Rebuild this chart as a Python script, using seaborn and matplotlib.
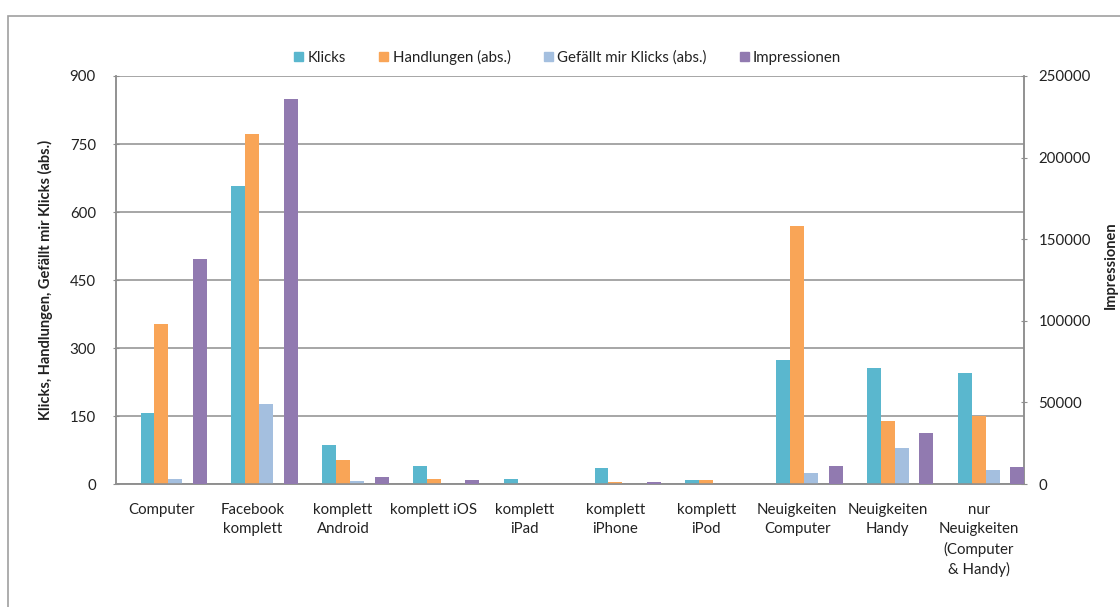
import numpy as np
import pandas as pd
import seaborn as sns
import matplotlib.pyplot as plt
from matplotlib.patches import Rectangle
from matplotlib.ticker import FixedLocator, NullFormatter

# values
categories = [
    "Computer",
    "Facebook\nkomplett",
    "komplett\nAndroid",
    "komplett iOS",
    "komplett\niPad",
    "komplett\niPhone",
    "komplett\niPod",
    "Neuigkeiten\nComputer",
    "Neuigkeiten\nHandy",
    "nur\nNeuigkeiten\n(Computer\n& Handy)",
]
klicks = [156, 657, 86, 40, 11, 35, 8, 273, 257, 244]
handlungen = [352, 772, 54, 11, 0, 4, 8, 569, 139, 151]
gefaellt = [11, 176, 7, 0, 0, 0, 0, 24, 80, 31]
impressionen = [138000, 235700, 4100, 2300, 0, 1200, 0, 11200, 31300, 10200]

series_names = ["Klicks", "Handlungen (abs.)", "Gefällt mir Klicks (abs.)"]
colors = ["#5ab7ce", "#f9a557", "#a4bfdf"]
purple = "#917ab0"

df = pd.DataFrame({
    "Kategorie": categories * 3,
    "Wert": klicks + handlungen + gefaellt,
    "Reihe": np.repeat(series_names, len(categories)),
})

sns.set_style("white")
plt.rcParams["font.family"] = ["Lato", "DejaVu Sans"]
text_col = "#222222"
grid_col = "#8e8e8e"

fig = plt.figure(figsize=(11.2, 6.07), dpi=100)
fig.patches.append(Rectangle((0.007, -0.1), 1.2, 1.074, transform=fig.transFigure,
                             fill=False, edgecolor="#a0a0a0", linewidth=1.2))
ax = fig.add_axes([0.1036, 0.2026, 0.8107, 0.6722])

sns.barplot(data=df, x="Kategorie", y="Wert", hue="Reihe", palette=colors,
            width=0.46, saturation=1, errorbar=None, ax=ax, zorder=3,
            legend=False, linewidth=0)

ax2 = ax.twinx()
ax2.bar(np.arange(len(categories)) + 0.425, impressionen, width=0.155,
        color=purple, linewidth=0, zorder=3)

ax.set_xlim(-0.5, len(categories) - 0.5)
ax.set_ylim(0, 900)
ax.set_yticks(np.arange(0, 901, 150))
ax2.set_ylim(0, 250000)
ax2.set_yticks(np.arange(0, 250001, 50000))

ax.yaxis.grid(True, color=grid_col, linewidth=1.1)
ax.set_axisbelow(True)
for a in (ax, ax2):
    for side in ("left", "right", "bottom"):
        a.spines[side].set_color(grid_col)
        a.spines[side].set_linewidth(1.1)
    a.spines["top"].set_visible(False)

ax.set_xticks(range(len(categories)))
ax.set_xticklabels(categories, fontsize=10.8, color=text_col, linespacing=1.45)
ax.xaxis.set_minor_locator(FixedLocator(np.arange(-0.5, len(categories), 1)))
ax.xaxis.set_minor_formatter(NullFormatter())
ax.tick_params(axis="x", which="major", length=0, pad=14)
ax.tick_params(axis="x", which="minor", length=5, color=grid_col, direction="inout")
ax.tick_params(axis="y", length=5, color=grid_col, direction="inout",
               labelsize=10.8, labelcolor=text_col, pad=12)
ax2.tick_params(axis="y", length=5, color=grid_col, direction="inout",
                labelsize=10.8, labelcolor=text_col, pad=8)

ax.set_xlabel("")
ax.set_ylabel("Klicks, Handlungen, Gefällt mir Klicks (abs.)", fontsize=10.5,
              fontweight="bold", color=text_col, labelpad=12)
ax2.set_ylabel("Impressionen", fontsize=10.5, fontweight="bold", color=text_col)
ax2.yaxis.set_label_coords(1.088, 0.536)

handles = [Rectangle((0, 0), 1, 1, color=c) for c in colors + [purple]]
fig.legend(handles, series_names + ["Impressionen"], loc="center",
           bbox_to_anchor=(0.507, 0.906), ncol=4, frameon=False, fontsize=10.8,
           handlelength=0.6, handleheight=0.6, handletextpad=0.3, columnspacing=2.2,
           labelcolor=text_col)

fig.savefig("out.png", dpi=100)
